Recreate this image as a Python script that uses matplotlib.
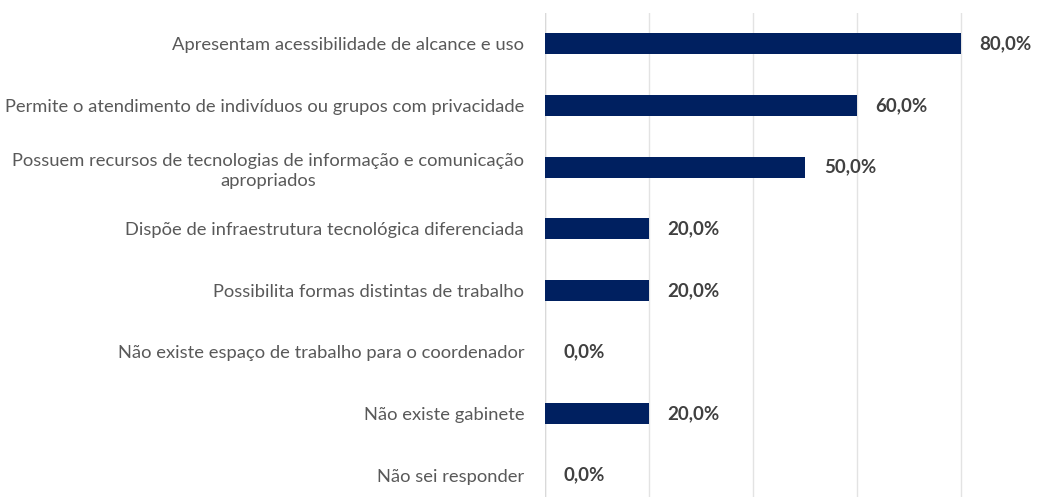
from matplotlib import pyplot as plt

categorias = [
    "Apresentam acessibilidade de alcance e uso",
    "Permite o atendimento de indivíduos ou grupos com privacidade",
    "Possuem recursos de tecnologias de informação e comunicação\napropriados",
    "Dispõe de infraestrutura tecnológica diferenciada",
    "Possibilita formas distintas de trabalho",
    "Não existe espaço de trabalho para o coordenador",
    "Não existe gabinete",
    "Não sei responder",
]
valores = [80.0, 60.0, 50.0, 20.0, 20.0, 0.0, 20.0, 0.0]
grade = [0, 20, 40, 60, 80]

plt.rcParams['font.family'] = ['Lato', 'DejaVu Sans']

fig = plt.figure(figsize=(10.62, 4.97), dpi=100)
ax = fig.add_axes([545/1062, -9/497, 520/1062, 493/497])

y = list(range(len(categorias)))
ax.barh(y, valores, height=0.34, color="#002060", zorder=3)
ax.set_xlim(0, 100)
ax.set_ylim(len(categorias) - 0.5, -0.5)

ax.set_xticks(grade)
ax.set_xticklabels([])
ax.tick_params(axis='x', length=0)
ax.grid(axis='x', color="#e3e3e3", linewidth=1, zorder=0)

ax.set_yticks(y)
ax.set_yticklabels(categorias, fontsize=13.2, color="#595959",
                   multialignment='center', linespacing=1.35)
ax.tick_params(axis='y', length=0, pad=15)

for s in ax.spines.values():
    s.set_visible(False)
ax.axvline(0, color="#d9d9d9", linewidth=1, zorder=2)

for yi, v in zip(y, valores):
    ax.text(v + 3.6, yi, f"{v:.1f}%".replace(".", ","), va='center', ha='left',
            fontsize=13.5, fontweight='bold', color="#404040")

fig.savefig("out.png", dpi=100)
